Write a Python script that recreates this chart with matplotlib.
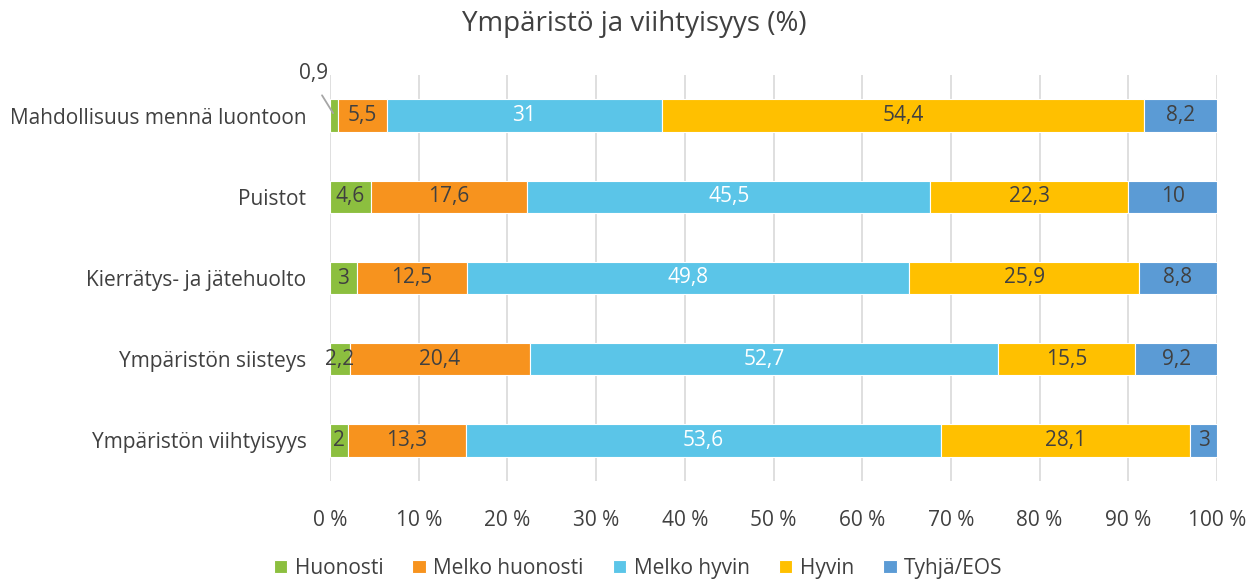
import matplotlib
matplotlib.use("Agg")
import matplotlib.pyplot as plt
import numpy as np

categories = ["Mahdollisuus mennä luontoon", "Puistot", "Kierrätys- ja jätehuolto",
              "Ympäristön siisteys", "Ympäristön viihtyisyys"]
series_names = ["Huonosti", "Melko huonosti", "Melko hyvin", "Hyvin", "Tyhjä/EOS"]
huonosti = [0.9, 4.6, 3.0, 2.2, 2.0]
melko_huonosti = [5.5, 17.6, 12.5, 20.4, 13.3]
melko_hyvin = [31.0, 45.5, 49.8, 52.7, 53.6]
hyvin = [54.4, 22.3, 25.9, 15.5, 28.1]
tyhja = [8.2, 10.0, 8.8, 9.2, 3.0]
series = [huonosti, melko_huonosti, melko_hyvin, hyvin, tyhja]
colors = ["#8CBF3F", "#F7931E", "#5BC5E8", "#FFC000", "#5B9BD5"]
label_colors = ["#404040", "#404040", "white", "#404040", "#404040"]
xticks = [0, 10, 20, 30, 40, 50, 60, 70, 80, 90, 100]
xticklabels = [f"{v} %" for v in xticks]

plt.rcParams['font.family'] = ['Open Sans', 'DejaVu Sans']
FS = 15

fig = plt.figure(figsize=(12.56, 5.79), dpi=100)
ax = fig.add_axes([330/1256, 1-481/579, (1217-330)/1256, (481-75)/579])

y = np.arange(len(categories))[::-1]
left = np.zeros(len(categories))
for vals, name, col, lc in zip(series, series_names, colors, label_colors):
    vals = np.array(vals)
    ax.barh(y, vals, left=left, height=0.4, color=col, label=name,
            edgecolor="white", linewidth=0.8, zorder=3)
    for i, (v, l) in enumerate(zip(vals, left)):
        txt = f"{v:g}".replace(".", ",")
        if name == "Huonosti" and i == 0:
            ax.text(-1.9, y[i] + 0.52, txt, ha="center", va="center", fontsize=FS,
                    color="#404040", clip_on=False)
            ax.annotate("", xy=(l + v/2 - 0.1, y[i] + 0.03), xytext=(-0.9, y[i] + 0.25),
                        arrowprops=dict(arrowstyle="-", color="#A6A6A6", lw=1.3,
                                        shrinkA=0, shrinkB=0), annotation_clip=False)
        else:
            ax.text(l + v/2, y[i], txt, ha="center", va="center", fontsize=FS,
                    color=lc, zorder=4)
    left = left + vals

ax.set_xlim(0, 100)
ax.set_ylim(-0.5, 4.5)
ax.set_yticks(y)
ax.set_yticklabels(categories, fontsize=FS, color="#404040")
ax.set_xticks(xticks)
ax.set_xticklabels(xticklabels, fontsize=FS, color="#404040")
ax.tick_params(axis="y", length=0, pad=17)
ax.tick_params(axis="x", length=0, pad=21)
for s in ax.spines.values():
    s.set_visible(False)
ax.grid(axis="x", color="#D9D9D9", lw=1.2, zorder=0)
ax.set_axisbelow(True)

fig.suptitle("Ympäristö ja viihtyisyys (%)", x=0.505, y=0.982, fontsize=20, color="#404040")
fig.legend(loc="lower center", bbox_to_anchor=(0.508, -0.032), ncol=5, frameon=False,
           fontsize=FS, handlelength=0.65, handleheight=0.65, handletextpad=0.35,
           columnspacing=1.4, labelcolor="#404040")

fig.savefig("out.png", dpi=100)
